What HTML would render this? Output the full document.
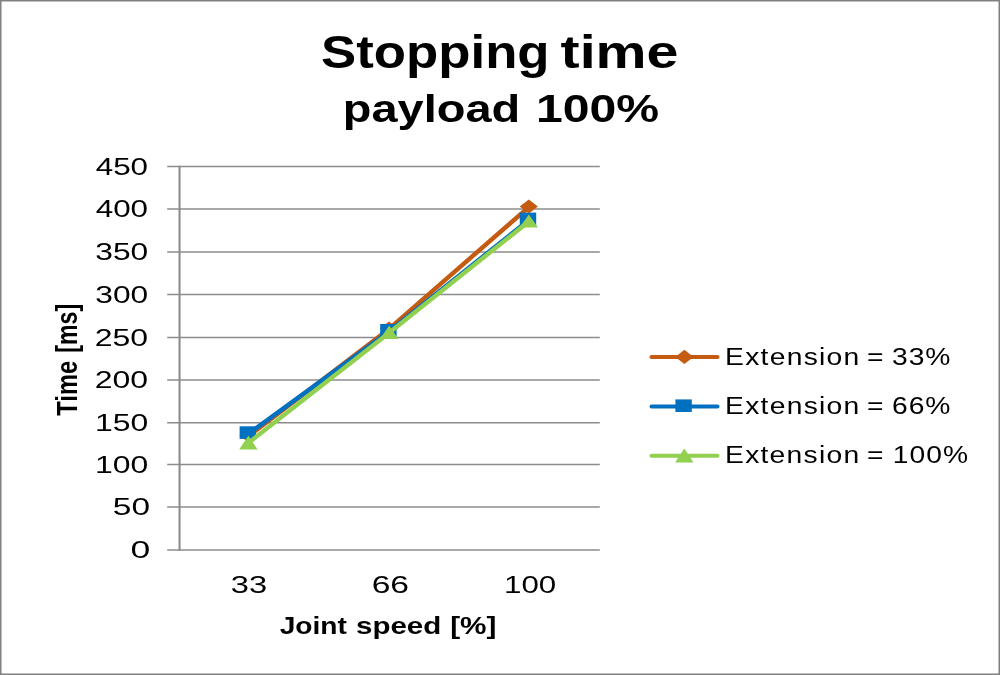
<!DOCTYPE html>
<html lang="en">
<head>
<meta charset="utf-8">
<title>Stopping time payload 100%</title>
<style>
  html, body { margin: 0; padding: 0; background: #ffffff; }
  body { width: 1000px; height: 675px; overflow: hidden; position: relative; }
  #chart { position: absolute; left: 0; top: 0; width: 1000px; height: 675px; display: block; }
  #chart text { font-family: "Liberation Sans", sans-serif; fill: #000000; }
  .b { font-weight: bold; }
  .grid line { stroke: #8c8c8c; stroke-width: 1.5; }
</style>
</head>
<body>
<svg id="chart" width="1000" height="675" viewBox="0 0 1000 675">
  <rect x="0" y="0" width="1000" height="675" fill="#ffffff"/>
  <!-- outer border -->
  <rect x="0.75" y="0.75" width="998.5" height="673.5" fill="none" stroke="#808080" stroke-width="1.5"/>

  <!-- chart title -->
  <text class="b" y="68" font-size="45.96"><tspan x="321.1" textLength="228.5" lengthAdjust="spacingAndGlyphs">Stopping</tspan> <tspan x="560.55" textLength="117.95" lengthAdjust="spacingAndGlyphs">time</tspan></text>
  <text class="b" y="122" font-size="39.65"><tspan x="342.85" textLength="177.39" lengthAdjust="spacingAndGlyphs">payload</tspan> <tspan x="536" textLength="123.2" lengthAdjust="spacingAndGlyphs">100%</tspan></text>

  <!-- gridlines and value axis -->
  <g class="grid">
    <line x1="167.2" x2="599.8" y1="166.4" y2="166.4"/>
    <line x1="167.2" x2="599.8" y1="209" y2="209"/>
    <line x1="167.2" x2="599.8" y1="251.9" y2="251.9"/>
    <line x1="167.2" x2="599.8" y1="294.4" y2="294.4"/>
    <line x1="167.2" x2="599.8" y1="337.4" y2="337.4"/>
    <line x1="167.2" x2="599.8" y1="380" y2="380"/>
    <line x1="167.2" x2="599.8" y1="422.8" y2="422.8"/>
    <line x1="167.2" x2="599.8" y1="464.4" y2="464.4"/>
    <line x1="167.2" x2="599.8" y1="507" y2="507"/>
    <line x1="167.2" x2="599.8" y1="549.9" y2="549.9"/>
    <line x1="179.55" x2="179.55" y1="165.65" y2="550.65" style="stroke-width:2.1"/>
  </g>

  <!-- value axis labels -->
  <g font-size="23.61">
    <text x="95.69" y="174.85" textLength="52.42" lengthAdjust="spacingAndGlyphs">450</text>
    <text x="95.69" y="217.45" textLength="52.42" lengthAdjust="spacingAndGlyphs">400</text>
    <text x="95.28" y="260.35" textLength="52.96" lengthAdjust="spacingAndGlyphs">350</text>
    <text x="95.28" y="302.85" textLength="52.96" lengthAdjust="spacingAndGlyphs">300</text>
    <text x="94.69" y="345.85" textLength="53.4" lengthAdjust="spacingAndGlyphs">250</text>
    <text x="94.69" y="388.45" textLength="53.4" lengthAdjust="spacingAndGlyphs">200</text>
    <text x="94.91" y="431.25" textLength="53.27" lengthAdjust="spacingAndGlyphs">150</text>
    <text x="94.91" y="472.85" textLength="53.27" lengthAdjust="spacingAndGlyphs">100</text>
    <text x="112.79" y="515.45" textLength="37.23" lengthAdjust="spacingAndGlyphs">50</text>
    <text x="130.6" y="558.35" textLength="19.79" lengthAdjust="spacingAndGlyphs">0</text>
  </g>

  <!-- category axis labels -->
  <g font-size="24">
    <text x="230.89" y="593" textLength="36.31" lengthAdjust="spacingAndGlyphs">33</text>
    <text x="371.66" y="593" textLength="37.42" lengthAdjust="spacingAndGlyphs">66</text>
    <text x="504" y="593" textLength="52.2" lengthAdjust="spacingAndGlyphs">100</text>
  </g>

  <!-- axis titles -->
  <text class="b" y="634" font-size="23.4"><tspan x="279.67" textLength="67.24" lengthAdjust="spacingAndGlyphs">Joint</tspan> <tspan x="356" textLength="85.28" lengthAdjust="spacingAndGlyphs">speed</tspan> <tspan x="450.22" textLength="46.26" lengthAdjust="spacingAndGlyphs">[%]</tspan></text>
  <text class="b" font-size="22.99" transform="translate(76.8 415.7) rotate(-90) scale(1 1.3)" y="0"><tspan x="0" textLength="54.77" lengthAdjust="spacingAndGlyphs">Time</tspan> <tspan x="63.04" textLength="48.81" lengthAdjust="spacingAndGlyphs">[ms]</tspan></text>

  <!-- series: Extension = 33% -->
  <g fill="#c55a11">
    <polyline points="248.6,436.2 389,328.9 528.8,207.1" fill="none" stroke="#c55a11" stroke-width="4.4" stroke-linejoin="round" stroke-linecap="round"/>
    <polygon points="248.6,428.6 257.7,435.6 248.6,442.6 239.5,435.6"/>
    <polygon points="389,321.4 398.1,328.4 389,335.4 379.9,328.4"/>
    <polygon points="528.8,199.6 537.9,206.6 528.8,213.6 519.7,206.6"/>
  </g>
  <!-- series: Extension = 66% -->
  <g fill="#0070c0">
    <polyline points="247.8,434.3 388.4,332.0 528,220.6" fill="none" stroke="#0070c0" stroke-width="4.4" stroke-linejoin="round" stroke-linecap="round"/>
    <rect x="239.6" y="426.3" width="16.4" height="12.6"/>
    <rect x="380.2" y="324.0" width="16.4" height="12.6"/>
    <rect x="519.8" y="212.6" width="16.4" height="12.6"/>
  </g>
  <!-- series: Extension = 100% -->
  <g fill="#92d050">
    <polyline points="248.4,442.9 389.2,332.7 528.8,221.5" fill="none" stroke="#92d050" stroke-width="4.4" stroke-linejoin="round" stroke-linecap="round"/>
    <polygon points="248.4,435.4 257.6,449.6 239.2,449.6"/>
    <polygon points="389.2,325.4 398.4,339 380,339"/>
    <polygon points="528.8,214.4 538,227.6 519.6,227.6"/>
  </g>

  <!-- legend -->
  <g>
    <line x1="651.5" x2="717.5" y1="356.9" y2="356.9" stroke="#c55a11" stroke-width="4" stroke-linecap="round"/>
    <polygon points="684.4,349.8 693.5,356.9 684.4,364 675.3,356.9" fill="#c55a11"/>
    <text transform="translate(0 365) scale(1.18 1)" y="0" font-size="23.93"><tspan x="614.44" textLength="113.78" lengthAdjust="spacing">Extension</tspan> <tspan x="734.69">=</tspan> <tspan x="756.01" textLength="49.49" lengthAdjust="spacing">33%</tspan></text>

    <line x1="651.5" x2="717.5" y1="406.4" y2="406.4" stroke="#0070c0" stroke-width="4" stroke-linecap="round"/>
    <rect x="675.4" y="399.4" width="16.4" height="12.6" fill="#0070c0"/>
    <text transform="translate(0 414) scale(1.18 1)" y="0" font-size="23.93"><tspan x="614.44" textLength="113.78" lengthAdjust="spacing">Extension</tspan> <tspan x="734.69">=</tspan> <tspan x="755.86" textLength="49.64" lengthAdjust="spacing">66%</tspan></text>

    <line x1="651.5" x2="717.5" y1="455.7" y2="455.7" stroke="#92d050" stroke-width="4" stroke-linecap="round"/>
    <polygon points="684.3,448.4 693.5,462.4 675.1,462.4" fill="#92d050"/>
    <text transform="translate(0 463) scale(1.18 1)" y="0" font-size="23.93"><tspan x="614.44" textLength="113.61" lengthAdjust="spacing">Extension</tspan> <tspan x="734.69">=</tspan> <tspan x="756.49" textLength="64.05" lengthAdjust="spacing">100%</tspan></text>
  </g>
</svg>
</body>
</html>
